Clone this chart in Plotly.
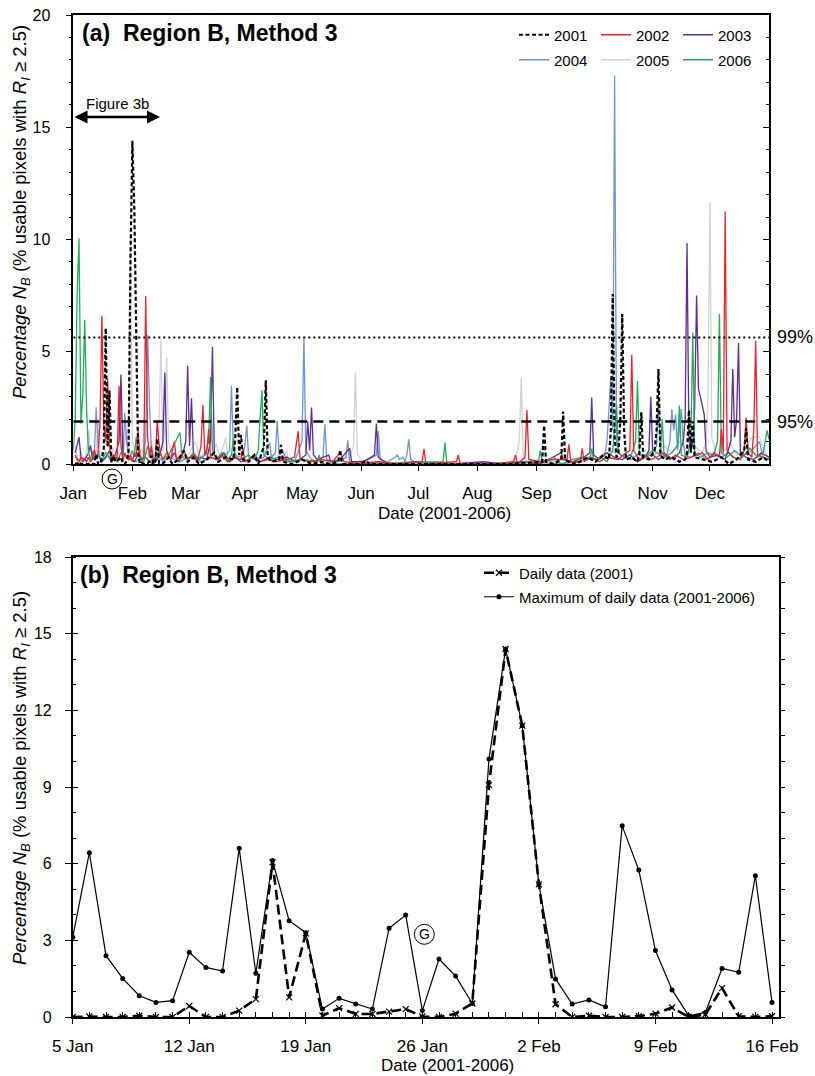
import plotly.graph_objects as go

W, H = 815, 1076
FONT = "Liberation Sans, Arial, sans-serif"

# ---------------- Panel (a): daily data by year (day of year, value) ----------------
MONTHS = ["Jan", "Feb", "Mar", "Apr", "May", "Jun", "Jul", "Aug", "Sep", "Oct", "Nov", "Dec"]
MONTH_STARTS = [0, 31, 59, 90, 120, 151, 181, 212, 243, 273, 304, 334]
YEARS = ["2001", "2002", "2003", "2004", "2005", "2006"]
P99 = 5.64
P95 = 1.89

# ---------------- Panel (b): 5 Jan - 16 Feb ----------------
B_DAYS = list(range(43))  # days after 5 Jan
B_TICKVALS = [0, 7, 14, 21, 28, 35, 42]
B_TICKTEXT = ["5 Jan", "12 Jan", "19 Jan", "26 Jan", "2 Feb", "9 Feb", "16 Feb"]
B_DAILY_2001 = [0.0, 0.02, 0.0, 0.0, 0.05, 0.0, 0.0, 0.43, 0.0, 0.0, 0.25, 0.70, 6.05, 0.77,
                3.27, 0.05, 0.35, 0.12, 0.12, 0.21, 0.31, 0.02, 0.0, 0.13, 0.53, 9.08, 14.4,
                11.4, 5.19, 0.50, 0.0, 0.05, 0.0, 0.0, 0.03, 0.13, 0.37, 0.0, 0.10, 1.13,
                0.03, 0.0, 0.03]
B_MAX = [3.12, 6.43, 2.40, 1.51, 0.83, 0.57, 0.64, 2.53, 1.94, 1.80, 6.60, 1.71, 6.12, 3.77,
         3.30, 0.31, 0.73, 0.51, 0.31, 3.47, 3.99, 0.25, 2.27, 1.60, 0.53, 10.1, 14.4, 11.4,
         5.19, 1.49, 0.51, 0.67, 0.40, 7.48, 5.75, 2.60, 1.06, 0.05, 0.18, 1.90, 1.75, 5.53,
         0.57]

DAYS_2001 = [1, 2, 3, 4] + [5 + d for d in B_DAYS] + [
    48, 50, 52, 55, 58, 60, 63, 66, 70, 74, 76, 80, 84, 85, 86, 87, 88, 89, 92, 95, 97, 100,
    101, 102, 104, 108, 109, 110, 115, 120, 125, 130, 135, 139, 140, 141, 150, 154, 155, 200,
    230, 246, 247, 248, 252, 256, 257, 258, 262, 266, 270, 274, 278, 281, 282, 283, 284, 285,
    286, 287, 288, 289, 290, 293, 296, 297, 298, 299, 302, 305, 306, 307, 308, 310, 314, 318,
    321, 322, 323, 324, 325, 326, 330, 335, 340, 344, 348, 352, 353, 354, 358, 362, 365]
VALS_2001 = [0.05, 0.0, 0.1, 0.0] + B_DAILY_2001 + [
    0.1, 0.3, 0.0, 0.2, 0.6, 0.1, 0.3, 0.0, 0.2, 0.5, 0.1, 0.3, 0.2, 1.2, 3.43, 0.4, 1.3, 0.2,
    0.1, 0.4, 0.0, 0.8, 3.73, 0.3, 0.1, 0.2, 0.85, 0.1, 0.0, 0.2, 0.0, 0.1, 0.0, 0.1, 0.63,
    0.0, 0.0, 0.15, 0.0, 0.0, 0.0, 0.1, 1.72, 0.1, 0.0, 0.2, 2.34, 0.2, 0.0, 0.1, 0.3, 0.1,
    0.4, 0.2, 1.5, 7.57, 1.2, 0.3, 0.5, 2.0, 6.68, 1.5, 0.2, 0.3, 0.1, 0.5, 2.3, 0.3, 0.2, 0.6,
    1.5, 4.23, 0.4, 0.2, 0.3, 0.1, 0.2, 0.5, 2.4, 0.5, 1.9, 0.3, 0.2, 0.1, 0.3, 0.0, 0.2, 0.6,
    1.6, 0.2, 0.1, 0.3, 0.1]

DAYS_2002 = [1, 2, 3, 4, 5, 6, 7, 8, 9, 10, 11, 12, 13, 14, 15, 16, 17, 18, 19, 20, 21, 22, 23,
             24, 25, 26, 27, 28, 29, 30, 31, 32, 33, 34, 35, 36, 37, 38, 39, 40, 41, 42, 43, 44,
             45, 46, 47, 49, 51, 53, 54, 56, 58, 60, 63, 65, 67, 68, 69, 70, 71, 72, 75, 78, 81,
             84, 88, 89, 90, 94, 98, 102, 106, 112, 116, 117, 118, 119, 124, 130, 136, 140, 142,
             150, 160, 170, 183, 184, 185, 201, 202, 203, 220, 231, 232, 233, 237, 238, 239, 245,
             252, 259, 260, 261, 266, 267, 268, 272, 276, 280, 286, 290, 292, 293, 294, 297, 300,
             303, 306, 310, 313, 316, 320, 324, 330, 333, 336, 339, 340, 341, 342, 343, 346, 350,
             352, 353, 354, 356, 357, 358, 359, 362, 365]
VALS_2002 = [0.4, 0.2, 0.1, 0.3, 0.1, 0.2, 0.1, 0.3, 0.1, 0.2, 0.64, 0.3, 0.5, 1.80, 6.60, 1.71,
             1.0, 3.77, 0.8, 0.2, 0.4, 0.3, 0.2, 3.47, 0.9, 0.1, 0.5, 0.3, 0.2, 0.4, 0.1, 0.5,
             0.3, 1.49, 0.4, 0.2, 0.3, 7.48, 1.2, 0.3, 0.8, 0.05, 0.1, 1.90, 0.9, 0.4, 0.2, 0.5,
             0.2, 1.0, 0.3, 0.2, 0.6, 0.2, 0.4, 0.1, 0.8, 2.63, 0.4, 0.5, 1.56, 0.3, 0.2, 0.4,
             0.1, 0.3, 0.2, 0.7, 0.1, 0.3, 0.1, 0.2, 0.1, 0.2, 0.3, 0.9, 1.47, 0.2, 0.1, 0.2, 0.1,
             0.5, 0.1, 0.0, 0.1, 0.0, 0.1, 0.68, 0.0, 0.1, 0.4, 0.0, 0.0, 0.1, 0.4, 0.0, 0.3,
             2.4, 0.2, 0.1, 0.2, 0.2, 0.88, 0.1, 0.1, 0.7, 0.1, 0.3, 0.1, 0.3, 0.2, 0.5, 0.6,
             4.87, 0.6, 0.2, 0.4, 0.2, 0.3, 0.5, 0.2, 0.4, 0.2, 0.3, 0.5, 0.2, 0.5, 0.3, 1.56,
             0.5, 11.25, 0.6, 0.3, 0.2, 0.6, 2.07, 0.5, 0.3, 1.5, 5.49, 0.4, 0.3, 0.2]

DAYS_2003 = [1, 3, 4, 6, 8, 9, 10, 11, 13, 15, 17, 19, 20, 22, 24, 25, 26, 28, 30, 32, 34, 36,
             38, 40, 42, 44, 46, 47, 48, 49, 51, 53, 55, 57, 59, 60, 61, 62, 63, 65, 67, 70, 72,
             73, 74, 76, 79, 82, 85, 88, 92, 95, 98, 103, 107, 112, 117, 122, 123, 124, 125, 126,
             128, 134, 135, 140, 145, 146, 152, 158, 159, 160, 165, 180, 200, 215, 225, 235, 245,
             256, 257, 262, 268, 271, 272, 273, 276, 280, 284, 288, 292, 296, 300, 302, 303, 304,
             307, 311, 315, 318, 320, 321, 322, 323, 325, 326, 327, 328, 329, 330, 331, 332, 334,
             338, 342, 345, 346, 347, 348, 349, 350, 353, 357, 361, 365]
VALS_2003 = [0.5, 1.2, 0.3, 0.2, 0.5, 0.83, 0.3, 0.2, 0.4, 0.1, 0.3, 0.6, 0.2, 0.4, 1.0, 3.99,
             0.5, 0.3, 0.2, 0.1, 0.4, 0.2, 0.3, 0.1, 0.0, 0.2, 0.6, 1.0, 4.08, 0.6, 0.2, 0.5, 0.1,
             0.3, 1.0, 4.38, 0.8, 2.93, 0.5, 0.2, 0.3, 0.2, 1.0, 5.22, 0.4, 0.2, 0.5, 0.1, 0.3,
             0.1, 0.2, 0.4, 0.1, 0.3, 0.2, 0.3, 0.1, 0.4, 1.89, 0.6, 2.52, 0.4, 0.2, 0.4, 0.1,
             0.2, 0.7, 0.1, 0.1, 0.4, 1.8, 0.3, 0.0, 0.1, 0.0, 0.1, 0.0, 0.1, 0.0, 0.5, 0.2, 0.1,
             0.3, 0.5, 2.96, 0.4, 0.2, 0.5, 0.3, 0.2, 0.4, 0.1, 0.3, 0.6, 3.0, 0.4, 0.2, 0.4,
             0.2, 0.5, 1.0, 2.0, 9.84, 1.0, 0.8, 2.5, 7.5, 3.33, 3.0, 2.6, 2.2, 0.6, 0.3, 0.4,
             0.2, 1.0, 4.23, 1.2, 2.0, 5.39, 0.5, 0.3, 0.2, 0.5, 0.3]

DAYS_2004 = [1, 3, 5, 7, 9, 10, 11, 12, 13, 14, 16, 18, 20, 22, 24, 26, 27, 28, 29, 31, 33, 35,
             37, 38, 39, 40, 41, 43, 45, 47, 50, 53, 56, 60, 64, 68, 72, 76, 80, 82, 83, 84, 86,
             89, 90, 91, 92, 96, 100, 103, 104, 106, 107, 108, 110, 112, 116, 120, 121, 122, 125,
             128, 131, 132, 133, 138, 143, 144, 145, 150, 155, 159, 160, 161, 165, 169, 170, 171,
             173, 174, 175, 176, 177, 179, 185, 210, 240, 255, 265, 270, 275, 279, 280, 281, 282,
             283, 284, 285, 286, 289, 293, 297, 300, 303, 306, 307, 308, 311, 313, 314, 315, 316,
             317, 319, 320, 321, 324, 328, 332, 336, 340, 344, 348, 352, 356, 360, 362, 365]
VALS_2004 = [0.3, 0.2, 0.1, 0.3, 0.2, 0.57, 0.3, 2.53, 0.8, 0.3, 0.2, 0.4, 0.1, 0.3, 0.2, 0.2,
             2.27, 1.0, 0.3, 0.2, 0.1, 0.3, 0.2, 1.2, 5.75, 2.60, 0.6, 0.18, 0.3, 0.1, 0.3, 0.2,
             0.1, 0.3, 0.2, 0.1, 0.3, 0.2, 0.4, 0.6, 3.48, 0.6, 0.3, 0.4, 0.8, 1.7, 0.3, 0.2, 0.3,
             0.95, 0.3, 0.5, 1.92, 0.4, 0.55, 0.2, 0.1, 1.0, 5.67, 0.6, 0.2, 0.1, 0.3, 1.77, 0.2,
             0.1, 0.3, 1.06, 0.1, 0.1, 0.2, 0.4, 1.47, 0.2, 0.1, 0.3, 0.4, 0.2, 0.3, 0.1, 0.4,
             1.1, 0.2, 0.1, 0.0, 0.0, 0.1, 0.0, 0.1, 0.3, 0.2, 0.5, 1.0, 2.5, 3.85, 1.5, 17.3,
             1.0, 0.5, 0.3, 0.2, 0.5, 0.3, 0.4, 0.8, 3.0, 0.6, 0.3, 1.0, 2.44, 1.5, 2.2, 0.6,
             2.45, 1.0, 0.4, 0.3, 0.5, 0.2, 0.4, 0.3, 0.5, 0.2, 0.4, 0.6, 1.0, 0.3, 0.2]

DAYS_2005 = [1, 2, 4, 6, 7, 8, 9, 10, 12, 13, 14, 16, 17, 19, 21, 22, 23, 25, 26, 27, 28, 29,
             30, 31, 33, 35, 36, 37, 39, 40, 41, 42, 44, 45, 46, 47, 48, 49, 50, 52, 54, 56, 58,
             61, 64, 66, 69, 72, 75, 77, 80, 81, 84, 88, 92, 96, 100, 105, 110, 112, 113, 118,
             124, 130, 138, 145, 147, 148, 149, 151, 160, 175, 200, 225, 232, 234, 235, 236, 238,
             245, 252, 260, 266, 272, 278, 283, 286, 290, 295, 300, 305, 310, 314, 318, 322, 326,
             330, 332, 333, 334, 335, 337, 340, 344, 348, 352, 356, 360, 363, 365]
VALS_2005 = [0.8, 0.3, 0.5, 0.2, 0.6, 1.51, 0.6, 0.4, 0.5, 1.94, 0.6, 0.3, 0.5, 0.2, 0.73, 0.51,
             0.31, 0.8, 0.25, 0.9, 1.60, 0.4, 10.1, 1.0, 0.3, 0.51, 0.67, 0.40, 0.5, 0.3, 1.06,
             0.05, 0.5, 1.75, 5.53, 0.57, 1.5, 4.75, 1.0, 0.4, 0.2, 0.6, 0.3, 0.5, 1.0, 0.3, 0.5,
             0.2, 0.9, 0.3, 1.17, 0.3, 0.2, 0.5, 0.1, 0.3, 0.2, 0.4, 0.3, 0.6, 0.1, 0.2, 0.1, 0.2,
             0.1, 0.3, 0.8, 4.08, 0.5, 0.1, 0.1, 0.0, 0.1, 0.0, 0.2, 1.0, 3.85, 0.4, 0.1, 0.2,
             0.1, 0.3, 0.1, 0.4, 0.2, 0.6, 0.3, 0.5, 0.3, 0.6, 0.4, 0.8, 0.5, 1.0, 0.6, 0.8, 0.5,
             1.0, 3.0, 11.67, 1.2, 0.5, 0.3, 1.0, 0.4, 0.6, 1.2, 1.2, 0.5, 0.3]

DAYS_2006 = [0, 1, 2, 3, 4, 5, 6, 7, 8, 9, 11, 13, 15, 17, 19, 21, 23, 25, 27, 29, 31, 32, 33,
             35, 37, 39, 41, 43, 45, 47, 50, 53, 56, 57, 60, 63, 66, 69, 71, 72, 73, 75, 78, 81,
             83, 84, 85, 88, 92, 95, 97, 98, 99, 100, 103, 108, 113, 120, 128, 129, 130, 150, 194,
             195, 196, 230, 244, 245, 246, 252, 256, 262, 267, 271, 272, 273, 277, 280, 283, 285,
             286, 289, 292, 295, 296, 297, 300, 304, 308, 309, 310, 314, 317, 318, 319, 322, 324,
             325, 326, 329, 333, 336, 338, 339, 340, 343, 347, 351, 355, 359, 362, 364, 365]
VALS_2006 = [0.6, 2.0, 7.5, 10.06, 1.8, 3.12, 6.43, 2.40, 0.5, 0.2, 0.3, 0.4, 0.2, 0.5, 0.3,
             0.3, 0.1, 0.5, 0.4, 0.2, 0.6, 0.3, 1.2, 0.2, 0.1, 0.8, 0.4, 0.1, 0.6, 0.2, 0.4, 0.9,
             1.4, 0.3, 0.2, 0.5, 0.2, 0.4, 1.0, 3.87, 0.6, 0.2, 0.5, 0.2, 0.4, 1.17, 0.3, 0.2,
             0.4, 0.2, 0.6, 2.0, 3.3, 0.4, 0.2, 0.3, 0.1, 0.2, 0.1, 0.4, 0.0, 0.0, 0.1, 0.95, 0.0,
             0.0, 0.1, 0.6, 0.1, 0.3, 0.0, 0.2, 0.3, 0.2, 0.7, 0.2, 0.3, 0.1, 0.6, 2.6, 0.5, 0.3,
             0.2, 1.0, 3.7, 0.4, 0.3, 0.6, 0.4, 2.0, 0.3, 0.5, 0.8, 2.6, 0.4, 0.3, 1.0, 5.86, 0.5,
             0.3, 0.5, 0.4, 1.0, 6.68, 0.5, 0.3, 0.6, 0.3, 0.7, 0.3, 0.5, 1.5, 1.1]

SERIES_A = {
    "2001": (DAYS_2001, VALS_2001),
    "2002": (DAYS_2002, VALS_2002),
    "2003": (DAYS_2003, VALS_2003),
    "2004": (DAYS_2004, VALS_2004),
    "2005": (DAYS_2005, VALS_2005),
    "2006": (DAYS_2006, VALS_2006),
}
COLORS = {"2001": "#000000", "2002": "#E8222B", "2003": "#5E2D91", "2004": "#6F93D3",
          "2005": "#D2D2D2", "2006": "#1FAD5C"}
DRAW_ORDER = ["2005", "2004", "2003", "2006", "2002", "2001"]
LEGEND_OF = {"2001": "legend", "2002": "legend", "2003": "legend",
             "2004": "legend2", "2005": "legend2", "2006": "legend2"}


def px_x(p):
    """page pixel (from left) -> paper fraction"""
    return p / W


def px_y(p):
    """page pixel (from top) -> paper fraction"""
    return 1 - p / H


fig = go.Figure()

for yr in DRAW_ORDER:
    d, v = SERIES_A[yr]
    is01 = yr == "2001"
    fig.add_trace(go.Scatter(
        x=d, y=v, mode="lines", name=yr, xaxis="x", yaxis="y",
        line=dict(color=COLORS[yr], width=2.2 if is01 else 1.3,
                  dash="4px,2.5px" if is01 else "solid"),
        legend=LEGEND_OF[yr], legendrank=YEARS.index(yr) + 1,
    ))

# Panel (b)
fig.add_trace(go.Scatter(
    x=B_DAYS, y=B_MAX, mode="lines+markers", name="Maximum of daily data (2001-2006)",
    xaxis="x2", yaxis="y2", legend="legend4",
    line=dict(color="black", width=1.2),
    marker=dict(symbol="circle", size=5, color="black"),
))
fig.add_trace(go.Scatter(
    x=B_DAYS, y=B_DAILY_2001, mode="lines+markers", name="Daily data (2001)",
    xaxis="x2", yaxis="y2", legend="legend3",
    line=dict(color="black", width=2.6, dash="10px,5px"),
    marker=dict(symbol="x-thin", size=6, line=dict(color="black", width=1.2)),
))

# empty traces to activate overlay axes for crossing / inside ticks
fig.add_trace(go.Scatter(x=[None], y=[None], xaxis="x", yaxis="y3", showlegend=False,
                         hoverinfo="skip"))
fig.add_trace(go.Scatter(x=[None], y=[None], xaxis="x2", yaxis="y4", showlegend=False,
                         hoverinfo="skip"))
fig.add_trace(go.Scatter(x=[None], y=[None], xaxis="x2", yaxis="y5", showlegend=False,
                         hoverinfo="skip"))
fig.add_trace(go.Scatter(x=[None], y=[None], xaxis="x3", yaxis="y2", showlegend=False,
                         hoverinfo="skip"))

# reference lines (a)
fig.add_shape(type="line", xref="x", yref="y", x0=0, x1=365, y0=P99, y1=P99,
              line=dict(color="black", width=2, dash="2px,3px"))
fig.add_shape(type="line", xref="x", yref="y", x0=0, x1=365, y0=P95, y1=P95,
              line=dict(color="black", width=2.6, dash="10px,6px"))

XA = [73.3, 769]
YA = [15, 464]
XB = [72.7, 779]
YB = [557, 1017]

axis_common = dict(showline=True, linecolor="black", linewidth=1.5, showgrid=False,
                   zeroline=False, tickcolor="black", tickwidth=1.3, automargin=False,
                   ticklabeloverflow="allow",
                   tickfont=dict(family=FONT, size=17, color="black"))
ytickfont = dict(family=FONT, size=16, color="black")

fig.update_layout(
    width=W, height=H, margin=dict(l=0, r=0, t=0, b=0, autoexpand=False),
    paper_bgcolor="white", plot_bgcolor="white",
    font=dict(family=FONT, color="black"),
    xaxis=dict(domain=[px_x(XA[0]), px_x(XA[1])], range=[0, 365], anchor="y",
               tickmode="array", tickvals=MONTH_STARTS, ticktext=MONTHS,
               ticks="outside", ticklen=5, mirror=True, ticklabelstandoff=8, **axis_common),
    yaxis=dict(domain=[px_y(YA[1]), px_y(YA[0])], range=[0, 20], anchor="x",
               dtick=5, ticks="outside", ticklen=6, ticklabelstandoff=12,
               minor=dict(dtick=1, ticks="outside", ticklen=3, tickcolor="black"),
               **{**axis_common, "tickfont": ytickfont}),
    yaxis3=dict(overlaying="y", side="right", anchor="x", range=[0, 20], dtick=5,
                ticks="inside", ticklen=6, showticklabels=False,
                minor=dict(dtick=1, ticks="inside", ticklen=3, tickcolor="black"),
                **axis_common),
    xaxis2=dict(domain=[px_x(XB[0]), px_x(XB[1])], range=[0, 42.42], anchor="y2",
                tickmode="array", tickvals=B_TICKVALS, ticktext=B_TICKTEXT,
                ticks="outside", ticklen=5, mirror=True, ticklabelstandoff=8,
                minor=dict(dtick=1, ticks="inside", ticklen=5, tickcolor="black"),
                **axis_common),
    xaxis3=dict(overlaying="x2", anchor="y2", side="bottom", range=[0, 42.42],
                tickmode="array", tickvals=B_TICKVALS, ticks="inside", ticklen=5,
                showticklabels=False, **axis_common),
    yaxis2=dict(domain=[px_y(YB[1]), px_y(YB[0])], range=[0, 18], anchor="x2",
                dtick=3, ticks="outside", ticklen=6, ticklabelstandoff=10,
                minor=dict(dtick=1, ticks="inside", ticklen=4, tickcolor="black"),
                **{**axis_common, "tickfont": ytickfont}),
    yaxis4=dict(overlaying="y2", side="left", anchor="x2", range=[0, 18], dtick=3,
                ticks="inside", ticklen=6, showticklabels=False, **axis_common),
    yaxis5=dict(overlaying="y2", side="right", anchor="x2", range=[0, 18], dtick=3,
                ticks="outside", ticklen=4, showticklabels=False,
                minor=dict(dtick=1, ticks="outside", ticklen=4, tickcolor="black"),
                **axis_common),
    showlegend=True,
    legend=dict(x=px_x(514), y=px_y(35), xanchor="left", yanchor="middle",
                orientation="h", entrywidth=37, entrywidthmode="pixels",
                bgcolor="rgba(0,0,0,0)", font=dict(family=FONT, size=15), traceorder="normal"),
    legend2=dict(x=px_x(514), y=px_y(60), xanchor="left", yanchor="middle",
                 orientation="h", entrywidth=37, entrywidthmode="pixels",
                 bgcolor="rgba(0,0,0,0)", font=dict(family=FONT, size=15), traceorder="normal"),
    legend3=dict(x=px_x(479), y=px_y(573), xanchor="left", yanchor="middle",
                 bgcolor="rgba(0,0,0,0)", font=dict(family=FONT, size=15)),
    legend4=dict(x=px_x(479), y=px_y(597), xanchor="left", yanchor="middle",
                 bgcolor="rgba(0,0,0,0)", font=dict(family=FONT, size=15)),
)

ann = []
ann.append(dict(text="<b>(a)\u00a0\u00a0Region B, Method 3</b>", xref="paper", yref="paper",
                x=px_x(80), y=px_y(33), xanchor="left", yanchor="middle", showarrow=False,
                font=dict(family=FONT, size=23, color="black")))
ann.append(dict(text="<b>(b)\u00a0\u00a0Region B, Method 3</b>", xref="paper", yref="paper",
                x=px_x(78), y=px_y(575), xanchor="left", yanchor="middle", showarrow=False,
                font=dict(family=FONT, size=23, color="black")))
YTITLE = ("<i>Percentage N<sub>B</sub></i> (% usable pixels with "
          "<i>R<sub>I</sub></i> \u2265 2.5)")
ann.append(dict(text=YTITLE, xref="paper", yref="paper", x=px_x(21), y=px_y(212),
                textangle=-90, showarrow=False, xanchor="center", yanchor="middle",
                font=dict(family=FONT, size=18.5, color="black")))
ann.append(dict(text=YTITLE, xref="paper", yref="paper", x=px_x(21), y=px_y(778),
                textangle=-90, showarrow=False, xanchor="center", yanchor="middle",
                font=dict(family=FONT, size=18.5, color="black")))
ann.append(dict(text="Date (2001-2006)", xref="paper", yref="paper", x=px_x(445),
                y=px_y(514), showarrow=False, xanchor="center", yanchor="middle",
                font=dict(family=FONT, size=17, color="black")))
ann.append(dict(text="Date (2001-2006)", xref="paper", yref="paper", x=px_x(447),
                y=px_y(1065), showarrow=False, xanchor="center", yanchor="middle",
                font=dict(family=FONT, size=17, color="black")))
ann.append(dict(text="99%", xref="paper", yref="y", x=px_x(775), y=P99, showarrow=False,
                xanchor="left", yanchor="middle", font=dict(family=FONT, size=18, color="black")))
ann.append(dict(text="95%", xref="paper", yref="y", x=px_x(775), y=P95, showarrow=False,
                xanchor="left", yanchor="middle", font=dict(family=FONT, size=18, color="black")))
ann.append(dict(text="Figure 3b", xref="paper", yref="paper", x=px_x(117), y=px_y(103),
                showarrow=False, xanchor="center", yanchor="middle",
                font=dict(family=FONT, size=15, color="black")))
# double-headed arrow for Figure 3b range
ann.append(dict(text="", xref="paper", yref="paper", x=px_x(160), y=px_y(117),
                ax=-87, ay=0, axref="pixel", ayref="pixel", showarrow=True,
                arrowhead=2, arrowsize=1, arrowwidth=2.6, arrowcolor="black",
                arrowside="end+start"))
# "G" markers
for cx, cy in [(112, 479), (424.3, 934.3)]:
    fig.add_shape(type="circle", xref="paper", yref="paper",
                  x0=px_x(cx - 10), x1=px_x(cx + 10), y0=px_y(cy + 10), y1=px_y(cy - 10),
                  line=dict(color="black", width=1))
    ann.append(dict(text="G", xref="paper", yref="paper", x=px_x(cx), y=px_y(cy),
                    showarrow=False, xanchor="center", yanchor="middle",
                    font=dict(family=FONT, size=14, color="black")))
fig.update_layout(annotations=ann)

fig.write_html(
    "out.html",
    config={"displayModeBar": False},
    post_script="document.body.style.margin='0';document.body.style.overflow='hidden';",
)
